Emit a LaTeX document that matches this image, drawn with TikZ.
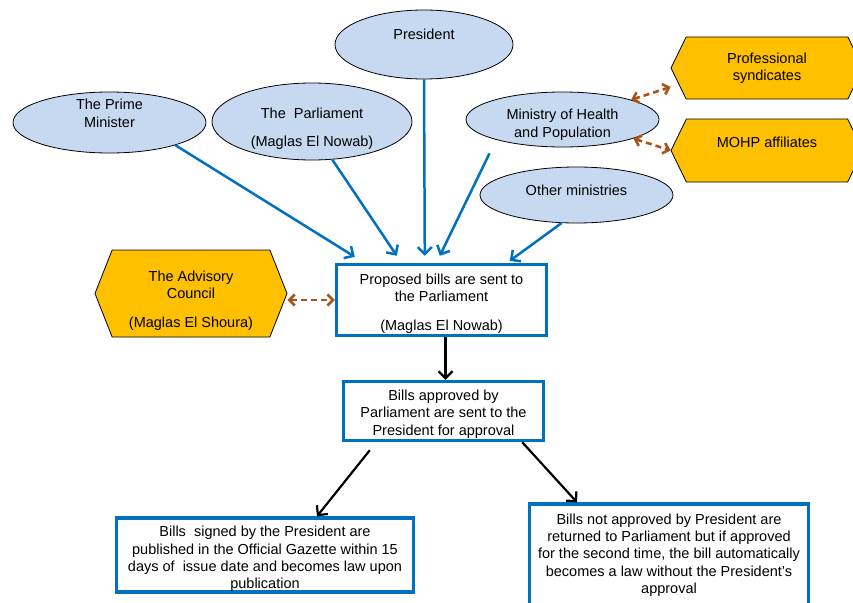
\documentclass[tikz,border=0pt]{standalone}
\usepackage{fontspec}
\setmainfont{Liberation Sans}
\usetikzlibrary{shapes.geometric,shapes.symbols,arrows.meta}
\definecolor{bubble}{RGB}{198,217,241}
\definecolor{amber}{RGB}{255,192,0}
\definecolor{linkblue}{RGB}{0,112,192}
\definecolor{rust}{RGB}{168,84,26}
\newcommand{\lifted}[2]{\raisebox{#1}[0pt][0pt]{\begin{tabular}{@{}c@{}}#2\end{tabular}}}

\begin{document}
\begin{tikzpicture}[x=1pt,y=-1pt,
  font=\fontsize{14.5}{17.4}\selectfont,
  actor/.style={ellipse,draw=black,line width=.8pt,fill=bubble,inner sep=0pt},
  partner/.style={signal,signal to=west and east,signal pointer angle=128,draw=black,line width=.8pt,fill=amber,inner sep=0pt,align=center,minimum width=192pt},
  stagebox/.style={rectangle,draw=linkblue,line width=3.4pt,fill=white,inner sep=0pt},
  feed/.style={draw=linkblue,line width=2.5pt,-{Straight Barb[length=7pt,width=14pt]}},
  pass/.style={draw=black,line width=2.2pt,-{Straight Barb[length=7pt,width=14pt]}},
  consult/.style={draw=rust,line width=2.6pt,dash pattern=on 6pt off 4pt,{Straight Barb[length=5.5pt,width=11pt]}-{Straight Barb[length=5.5pt,width=11pt]}}]
\useasboundingbox (0,0) rectangle (853,602);
\clip (0,0) rectangle (853,602);

% who proposes
\node[actor,minimum width=193pt,minimum height=61pt] (pm) at (109.5,122.5) {\lifted{3.9pt}{The Prime\\Minister}};
\node[actor,minimum width=200pt,minimum height=77pt] (parl) at (312,121.5) {\lifted{-11pt}{The~ Parliament\\[10pt](Maglas El Nowab)}};
\node[actor,minimum width=178pt,minimum height=69pt] (pres) at (424,44.5) {\lifted{5.2pt}{President}};
\node[actor,minimum width=193pt,minimum height=55pt] (moh) at (562.5,119.5) {\lifted{-9.2pt}{Ministry of Health\\and Population}};
\node[actor,minimum width=193pt,minimum height=56pt] (oth) at (576.5,195) {\lifted{-0.8pt}{Other ministries}};

% consulted bodies
\node[partner,minimum height=62pt] (prof) at (767,68) {Professional\\syndicates};
\node[partner,minimum height=63pt] (aff) at (767,150.5) {MOHP affiliates\\~};
\node[partner,signal pointer angle=137,minimum height=87pt] (adv) at (191,293.5) {\lifted{-11pt}{The Advisory\\Council\\[11pt](Maglas El Shoura)}};

% steps
\node[stagebox,minimum width=210pt,minimum height=71pt] (prop) at (441.5,300) {\lifted{-7.6pt}{Proposed bills are sent to\\the Parliament\\[12pt](Maglas El Nowab)}};
\node[stagebox,minimum width=200pt,minimum height=59pt] (appr) at (443.5,411) {\lifted{-7.1pt}{Bills approved by\\Parliament are sent to the\\President for approval}};
\node[stagebox,minimum width=297pt,minimum height=74pt] (lft) at (265,555) {\lifted{-8pt}{Bills~ signed by the President are\\published in the Official Gazette within 15\\days of~ issue date and becomes law upon\\publication}};
\node[stagebox,minimum width=279pt,minimum height=104pt] (rgt) at (669,556) {\lifted{-3.1pt}{Bills not approved by President are\\returned to Parliament but if approved\\for the second time, the bill automatically\\becomes a law without the President’s\\approval}};

% proposals
\draw[feed] (pm.-19) -- ([xshift=20pt,yshift=6pt]prop.north west);
\draw[feed] (parl.-62) -- ([xshift=62pt,yshift=7pt]prop.north west);
\draw[feed] (pres.south) -- ([xshift=90pt,yshift=7pt]prop.north west);
\draw[feed,shorten <=15pt] (moh.-163) -- ([xshift=105pt,yshift=7pt]prop.north west);
\draw[feed] (oth.-118) -- ([xshift=175pt,yshift=2pt]prop.north west);

% flow
\draw[pass] ([xshift=4pt]prop.south) -- ([xshift=4pt]prop.south |- appr.north);
\draw[pass] ([xshift=28pt,yshift=-8pt]appr.south west) -- ([xshift=52pt]lft.north);
\draw[pass] ([xshift=-23pt]appr.south east) -- ([xshift=-92pt]rgt.north);

% consultation
\draw[consult] (adv.east |- prop.west) -- (prop.west);
\draw[consult] (moh.16) -- ([yshift=-19pt]prof.west);
\draw[consult] (moh.-15) -- (aff.west);
\end{tikzpicture}
\end{document}
